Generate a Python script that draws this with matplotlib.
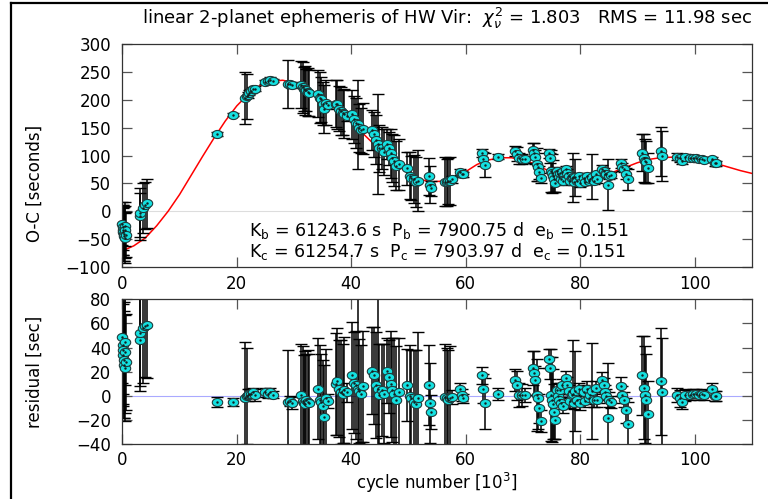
import numpy as np
import matplotlib
matplotlib.use("Agg")
import matplotlib.pyplot as plt
from matplotlib.lines import Line2D
from matplotlib.path import Path

plt.rcParams["font.family"] = ["DejaVu Sans"]
plt.rcParams["mathtext.fontset"] = "dejavusans"

# timing data: cycle number [10^3], O-C [s], 1-sigma error [s], residual [s]
cycle = [
    0.0, 0.1, 0.15, 0.2, 0.3, 0.35, 0.4, 0.5, 0.55, 0.6,
    3.0, 3.1, 3.6, 4.0, 4.3,
    16.6, 19.3,
    21.5, 21.7, 21.9, 22.2, 22.5, 22.8, 23.1,
    25.0, 25.4, 25.8, 26.3,
    28.9, 29.3, 29.6,
    31.3, 31.5, 31.7, 31.9, 32.1, 32.4, 32.7,
    34.2, 34.5, 34.7, 35.0, 35.2, 35.6, 36.0,
    37.3, 37.6, 37.9, 38.2, 38.5, 38.8, 39.2,
    40.2, 40.5, 40.8, 41.1, 41.4, 41.7, 42.0,
    43.7, 44.0, 44.3, 44.6, 44.9, 45.3, 45.7,
    46.3, 46.6, 46.9, 47.2, 47.5, 47.9, 48.3,
    49.8, 50.2, 50.5, 50.9, 51.3, 51.7,
    53.6, 53.8, 54.0,
    56.4, 56.7, 57.0, 57.3, 57.6,
    59.0, 59.3, 59.6,
    62.9, 63.1, 63.3,
    65.6,
    68.7, 69.0, 69.3, 69.8, 70.3,
    71.8, 72.0, 72.2, 72.4, 72.6, 72.9, 73.1,
    74.5, 74.7, 74.9, 75.1, 75.3, 75.5, 75.6,
    75.9, 76.1, 76.3, 76.5, 76.7, 76.9, 77.0,
    77.5, 77.8, 78.0, 78.3, 78.6, 78.8, 79.0, 79.2, 79.5, 79.8, 80.0,
    80.6, 80.9, 81.2, 81.5, 81.8, 82.1, 82.4, 82.7, 83.0,
    83.9, 84.1, 84.3, 84.6, 84.8, 85.1, 85.4,
    87.1, 87.4, 87.7, 88.0, 88.3,
    90.9, 91.1, 91.3, 91.5, 91.8,
    94.2, 94.4,
    97.0, 97.4, 97.8, 98.3,
    99.3, 99.8, 100.3, 100.8, 101.3, 101.7,
    103.1, 103.5, 103.8,
]
oc = [
    -22, -29, -33, -37, -41, -45, -48, -26, -34, -42,
    -9, -3, 6, 11, 14,
    139, 173,
    203, 206, 209, 213, 216, 219, 220,
    232, 233, 236, 234,
    229, 228, 226,
    227, 222, 219, 217, 218, 214, 212,
    211, 204, 201, 193, 183, 195, 190,
    193, 192, 184, 179, 177, 175, 170,
    174, 165, 159, 156, 150, 145, 148,
    146, 138, 128, 121, 113, 114, 106,
    121, 113, 104, 96, 91, 82, 84,
    77, 64, 60, 58, 52, 55,
    63, 48, 41,
    53, 52, 54, 55, 57,
    70, 67, 66,
    105, 94, 83,
    98,
    108, 103, 95, 94, 93,
    109, 104, 97, 84, 80, 70, 59,
    104, 95, 72, 68, 63, 57, 50,
    72, 66, 62, 69, 57, 70, 54,
    75, 68, 63, 55, 60, 61, 52, 61, 54, 63, 50,
    60, 53, 63, 55, 58, 62, 55, 66, 57,
    76, 72, 67, 66, 48, 64, 65,
    86, 79, 76, 67, 57,
    105, 96, 90, 88, 77,
    108, 99,
    98, 95, 91, 97,
    96, 96, 96, 93, 93, 92,
    93, 86, 86,
]
oc_err = [
    38, 40, 45, 42, 48, 44, 44, 36, 50, 40,
    42, 44, 45, 42, 44,
    4, 3,
    47, 40, 5, 4, 4, 4, 5,
    4, 4, 4, 3,
    43, 4, 5,
    42, 45, 40, 44, 38, 43, 41,
    42, 45, 40, 38, 43, 41, 6,
    42, 44, 40, 43, 41, 44, 8,
    44, 42, 45, 80, 43, 40, 46,
    36, 40, 44, 90, 42, 38, 41,
    27, 30, 44, 43, 46, 44, 45,
    30, 42, 40, 43, 45, 55,
    33, 33, 14,
    44, 42, 41, 43, 6,
    5, 5, 4,
    7, 12, 21,
    5,
    9, 12, 10, 9, 6,
    14, 18, 12, 30, 25, 12, 9,
    8, 9, 38, 35, 29, 23, 16,
    6, 5, 5, 6, 5, 5, 6,
    6, 7, 5, 6, 5, 44, 5, 33, 5, 5, 6,
    6, 5, 6, 5, 5, 40, 6, 5, 6,
    7, 6, 6, 6, 45, 6, 5,
    8, 7, 6, 10, 18,
    33, 43, 40, 38, 27,
    44, 45,
    6, 7, 6, 5,
    4, 4, 4, 4, 4, 4,
    5, 4, 4,
]
resid = [
    49, 42, 38, 34, 30, 26, 23, 45, 36, 28,
    46, 52, 56, 58, 59,
    -5, -5,
    -2, 0, 1, 2, 2, 3, 1,
    3, 2, 3, 1,
    -5, -4, -6,
    1, -4, -6, -7, -3, -5, -6,
    6, -3, -5, -8, -17, -2, -4,
    10, 12, 6, 3, 2, 5, 3,
    17, 11, 9, 6, 4, 2, 8,
    21, 17, 9, 6, 1, 5, 2,
    21, 16, 10, 5, 2, -3, 3,
    9, 0, -2, -5, -7, -2,
    9, -6, -13,
    -1, -2, -3, -2, -1,
    6, 1, -2,
    17, 6, -6,
    2,
    13, 9, 1, 1, 1,
    23, 19, 13, 1, -2, -10, -21,
    31, 23, 1, -3, -7, -13, -20,
    5, 0, -3, 5, -6, 9, -8,
    15, 9, 4, -4, 1, 2, -6, 4, -3, 6, -6,
    3, -4, 6, -2, 1, 4, -3, 7, -3,
    13, 9, 3, 0, -18, -3, -5,
    8, 1, -3, -12, -23,
    17, 7, 1, -3, -15,
    12, 3,
    1, -2, -5, 1,
    1, 2, 2, 1, 2, 1,
    6, 0, 0,
]

# fitted two-planet light-travel-time model, sampled every 2000 cycles
model_cycle = [
    0, 2, 4, 6, 8, 10, 12, 14, 16, 18, 20, 22, 24, 26, 28, 30, 32, 34, 36,
    38, 40, 42, 44, 46, 48, 50, 52, 54, 56, 58, 60, 62, 64, 66, 68, 70, 72,
    74, 76, 78, 80, 82, 84, 86, 88, 90, 92, 94, 96, 98, 100, 102, 104, 106,
    108, 110,
]
model_oc = [
    -71, -62, -48, -26, 0, 30, 64, 98, 131, 162, 189, 210, 225, 233, 235,
    231, 222, 209, 194, 177, 159, 140, 120, 101, 83, 68, 57, 53, 54, 60, 71,
    84, 92, 96, 96, 92, 85, 75, 66, 59, 56, 58, 64, 71, 79, 87, 93, 96, 97,
    96, 94, 90, 85, 79, 73, 68,
]

title = r"linear 2-planet ephemeris of HW Vir:  $\chi^2_\nu$ = 1.803   RMS = 11.98 sec"
param_b = r"K$_\mathrm{b}$ = 61243.6 s  P$_\mathrm{b}$ = 7900.75 d  e$_\mathrm{b}$ = 0.151"
param_c = r"K$_\mathrm{c}$ = 61254.7 s  P$_\mathrm{c}$ = 7903.97 d  e$_\mathrm{c}$ = 0.151"

FS = 12
CYAN = "#14e0e0"
EDGE = "#1f3c3c"

# slightly flattened point symbol
_t = np.linspace(0, 2 * np.pi, 33)
ELLIPSE = Path(np.column_stack([np.cos(_t), 0.78 * np.sin(_t)]), closed=True)


def style_axis(ax, yticks):
    ax.set_xlim(0, 110)
    ax.set_xticks([0, 20, 40, 60, 80, 100])
    ax.set_yticks(yticks)
    ax.tick_params(direction="in", length=7, width=0.9, color="#555555",
                   top=True, right=True, labelsize=FS)
    ax.tick_params(axis="y", pad=8)
    for s in ax.spines.values():
        s.set_color("#333333")
        s.set_linewidth(0.9)


def draw_points(ax, x, y, err):
    ax.errorbar(x, y, yerr=err, fmt="none", ecolor="black",
                elinewidth=1.1, capsize=4.5, capthick=1.0, zorder=2)
    ax.plot(x, y, linestyle="none", marker=ELLIPSE, ms=7.5, mfc=CYAN,
            mec=EDGE, mew=0.8, zorder=3, clip_on=False)
    ax.plot(x, y, ".", ms=1.5, color="#102020", zorder=4, clip_on=False)


def main():
    fig = plt.figure(figsize=(7.68, 4.99), dpi=100)
    ax1 = fig.add_axes([0.1593, 0.4649, 0.8195, 0.4469])
    ax2 = fig.add_axes([0.1593, 0.1096, 0.8195, 0.2906])

    # upper panel: O-C with the model curve
    ax1.axhline(0, color="#dddddd", lw=0.8, zorder=1)
    ax1.plot(model_cycle, model_oc, color="red", lw=1.1, zorder=1.5)
    draw_points(ax1, cycle, oc, oc_err)
    ax1.set_ylim(-100, 300)
    style_axis(ax1, np.arange(-100, 301, 50))
    ax1.tick_params(axis="x", pad=6)
    ax1.text(22.1, -35, param_b, fontsize=FS + 0.5, va="center", ha="left")
    ax1.text(22.1, -73, param_c, fontsize=FS + 0.5, va="center", ha="left")

    # lower panel: residuals against the model
    ax2.axhline(0, color="#aaaaff", lw=0.8, zorder=1)
    draw_points(ax2, cycle, resid, oc_err)
    ax2.set_ylim(-40, 80)
    style_axis(ax2, np.arange(-40, 81, 20))
    ax2.tick_params(axis="x", pad=5)

    fig.text(752 / 768, 1 - 18 / 499, title, fontsize=FS + 1,
             ha="right", va="center")
    fig.text(35 / 768, 1 - 183 / 499, "O-C [seconds]", fontsize=FS,
             rotation=90, ha="center", va="center")
    fig.text(35 / 768, 1 - 372 / 499, "residual [sec]", fontsize=FS,
             rotation=90, ha="center", va="center")
    fig.text(437 / 768, 1 - 483 / 499, r"cycle number [10$^3$]", fontsize=FS,
             ha="center", va="center")

    # page frame on the left and top
    fig.add_artist(Line2D([11 / 768, 11 / 768], [0, 1 - 3 / 499],
                          transform=fig.transFigure, color="black", lw=1.6))
    fig.add_artist(Line2D([11 / 768, 1], [1 - 3 / 499, 1 - 3 / 499],
                          transform=fig.transFigure, color="black", lw=1.6))

    fig.savefig("out.png", dpi=100)


if __name__ == "__main__":
    main()
